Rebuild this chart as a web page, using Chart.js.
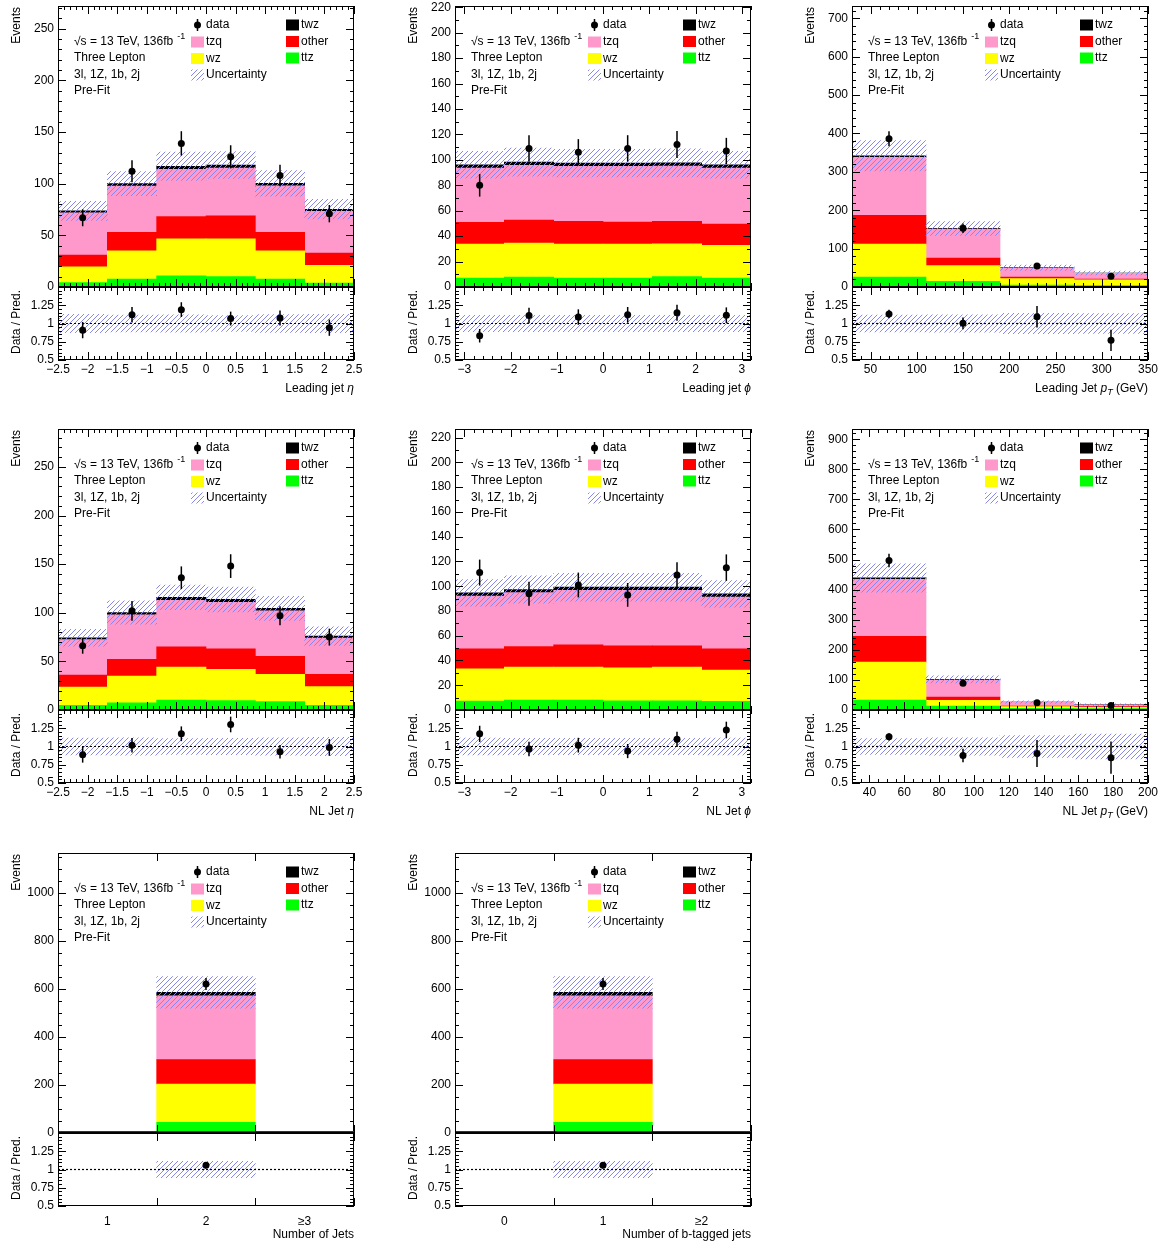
<!DOCTYPE html>
<html>
<head>
<meta charset="utf-8">
<title>Three lepton pre-fit jet distributions</title>
<script src="https://cdn.jsdelivr.net/npm/chart.js@4.4.1/dist/chart.umd.min.js"></script>
<style>
  html, body { margin: 0; padding: 0; background: #fff; }
  #page { position: relative; width: 1164px; height: 1245px; overflow: hidden; background: #fff; }
  #page canvas { position: absolute; }
</style>
</head>
<body>
<div id="page"></div>
<script>
/* -----------------------
data (stack order: ttz, wz, other, tzq, twz)
-------------------------- */
const sampleNames = ['ttz', 'wz', 'other', 'tzq', 'twz'];
const infoLines = ['Three Lepton', '3l, 1Z, 1b, 2j', 'Pre-Fit'];

// leading jet eta
const leadEtaEdges = [-2.5, -1.6667, -0.8333, 0, 0.8333, 1.6667, 2.5];
const leadEtaTtz   = [4.2, 7.7, 10.9, 10.0, 7.7, 3.9];
const leadEtaWz    = [15.4, 27.3, 35.8, 36.7, 27.3, 17.0];
const leadEtaOther = [11.3, 18.0, 21.5, 22.2, 18.0, 11.9];
const leadEtaTzq   = [40.8, 44.6, 45.6, 46.1, 44.9, 40.5];
const leadEtaTwz   = [2.0, 2.5, 3.0, 3.0, 2.5, 2.0];
const leadEtaUnc   = [9.3, 11.7, 13.7, 13.0, 12.4, 9.5];
const leadEtaData  = [67, 112, 139, 126, 108, 71];
const leadEtaErr   = [8.2, 10.6, 11.8, 11.2, 10.4, 8.4];

// leading jet phi
const leadPhiEdges = [-3.2, -2.1333, -1.0667, 0, 1.0667, 2.1333, 3.2];
const leadPhiTtz   = [7.1, 7.9, 7.1, 7.1, 8.1, 7.1];
const leadPhiWz    = [26.7, 26.7, 26.7, 26.7, 25.9, 25.6];
const leadPhiOther = [17.0, 18.0, 17.8, 17.2, 17.6, 16.8];
const leadPhiTzq   = [42.8, 43.1, 43.3, 43.9, 43.5, 44.1];
const leadPhiTwz   = [2.5, 2.5, 2.5, 2.5, 2.5, 2.5];
const leadPhiUnc   = [10.6, 11.0, 10.8, 10.8, 11.0, 10.6];
const leadPhiData  = [80, 109, 106, 109, 112, 107];
const leadPhiErr   = [8.9, 10.4, 10.3, 10.4, 10.6, 10.3];

// leading jet pT
const leadPtEdges = [30, 110, 190, 270, 350];
const leadPtTtz   = [26.0, 14.7, 5.2, 3.5];
const leadPtWz    = [85.9, 40.8, 16.5, 15.5];
const leadPtOther = [74.6, 20.0, 4.3, 1.8];
const leadPtTzq   = [151.2, 75.1, 23.3, 15.1];
const leadPtTwz   = [4.0, 2.0, 1.0, 0.5];
const leadPtUnc   = [39.5, 18.0, 7.0, 5.0];
const leadPtData  = [386, 153, 55, 28];
const leadPtErr   = [19.6, 12.4, 7.4, 5.3];

// NL jet eta
const nlEtaEdges = [-2.5, -1.6667, -0.8333, 0, 0.8333, 1.6667, 2.5];
const nlEtaTtz   = [4.8, 7.5, 10.3, 9.6, 8.6, 4.8];
const nlEtaWz    = [18.8, 27.4, 33.9, 32.2, 28.0, 19.2];
const nlEtaOther = [12.4, 17.1, 20.8, 21.2, 18.5, 12.6];
const nlEtaTzq   = [36.3, 45.8, 47.8, 47.7, 46.9, 37.4];
const nlEtaTwz   = [2.0, 2.5, 3.0, 3.0, 2.5, 2.0];
const nlEtaUnc   = [8.6, 12.0, 12.7, 12.7, 12.3, 9.6];
const nlEtaData  = [66, 102, 136, 148, 97, 75];
const nlEtaErr   = [8.1, 10.1, 11.7, 12.2, 9.8, 8.7];

// NL jet phi
const nlPhiEdges = [-3.2, -2.1333, -1.0667, 0, 1.0667, 2.1333, 3.2];
const nlPhiTtz   = [7.3, 8.1, 8.1, 7.5, 7.5, 7.0];
const nlPhiWz    = [26.0, 26.6, 26.6, 26.6, 27.2, 25.3];
const nlPhiOther = [16.2, 16.6, 18.0, 17.8, 17.2, 17.2];
const nlPhiTzq   = [42.6, 43.5, 44.0, 44.8, 44.8, 41.8];
const nlPhiTwz   = [2.5, 2.5, 2.5, 2.5, 2.5, 2.5];
const nlPhiUnc   = [10.8, 11.0, 11.2, 11.2, 11.2, 10.8];
const nlPhiData  = [111, 94, 101, 93, 109, 115];
const nlPhiErr   = [10.5, 9.7, 10.0, 9.6, 10.4, 10.7];

// NL jet pT
const nlPtEdges = [30, 72.5, 115, 157.5, 200];
const nlPtTtz   = [33.0, 13.0, 5.5, 4.4];
const nlPtWz    = [126.0, 19.0, 5.5, 4.4];
const nlPtOther = [86.0, 11.0, 2.3, 2.2];
const nlPtTzq   = [189.0, 56.7, 12.2, 6.2];
const nlPtTwz   = [5.0, 2.0, 1.0, 0.5];
const nlPtUnc   = [47.0, 12.0, 4.0, 3.0];
const nlPtData  = [497, 89, 24, 15];
const nlPtErr   = [22.3, 9.4, 4.9, 3.9];

// number of jets
const nJetsLabels = ['1', '2', '\u22653'];
const nJetsEdges  = [0.5, 1.5, 2.5, 3.5];
const nJetsTtz    = [0, 44, 0];
const nJetsWz     = [0, 160, 0];
const nJetsOther  = [0, 102, 0];
const nJetsTzq    = [0, 266, 0];
const nJetsTwz    = [0, 14, 0];
const nJetsUnc    = [0, 66, 0];
const nJetsData   = [0, 621, 0];
const nJetsErr    = [0, 24.9, 0];

// number of b-tagged jets
const nBLabels = ['0', '1', '\u22652'];
const nBEdges  = [-0.5, 0.5, 1.5, 2.5];
const nBTtz    = [0, 44, 0];
const nBWz     = [0, 160, 0];
const nBOther  = [0, 102, 0];
const nBTzq    = [0, 266, 0];
const nBTwz    = [0, 14, 0];
const nBUnc    = [0, 66, 0];
const nBData   = [0, 621, 0];
const nBErr    = [0, 24.9, 0];

/* -----------------------
styles
-------------------------- */
const FONT = "'Liberation Sans', Arial, Helvetica, sans-serif";
const sampleColors = { ttz: '#00ff00', wz: '#ffff00', other: '#ff0000', tzq: '#ff99cc', twz: '#000000' };

Chart.defaults.font.family = FONT;
Chart.defaults.font.size = 12;
Chart.defaults.color = '#000';

// hatch tile for the uncertainty band, one pattern per canvas
const hatchTile = (function () {
  const c = document.createElement('canvas');
  c.width = 5; c.height = 5;
  const g = c.getContext('2d');
  g.strokeStyle = 'rgb(135,135,240)';
  g.lineWidth = 1;
  g.beginPath();
  g.moveTo(-1, 6); g.lineTo(6, -1);
  g.moveTo(-1, 1); g.lineTo(1, -1);
  g.moveTo(4, 6); g.lineTo(6, 4);
  g.stroke();
  return c;
})();

/* -----------------------
panel layout
-------------------------- */
const W = 296, RATIO_H = 73;
const panels = [
  { left: 58, top: 6, mainH: 281, edges: leadEtaEdges,
    stacks: [leadEtaTtz, leadEtaWz, leadEtaOther, leadEtaTzq, leadEtaTwz], unc: leadEtaUnc, data: leadEtaData, err: leadEtaErr,
    yMax: 272, yStep: 50, yMinor: 5, xStep: 0.5, xMinor: 5, title: [['Leading jet ', ''], ['\u03b7', 'i']] },
  { left: 455, top: 6, mainH: 281, edges: leadPhiEdges,
    stacks: [leadPhiTtz, leadPhiWz, leadPhiOther, leadPhiTzq, leadPhiTwz], unc: leadPhiUnc, data: leadPhiData, err: leadPhiErr,
    yMax: 221, yStep: 20, yMinor: 2, xStep: 1, xMinor: 5, title: [['Leading jet ', ''], ['\u03d5', 'i']] },
  { left: 852, top: 6, mainH: 281, edges: leadPtEdges,
    stacks: [leadPtTtz, leadPtWz, leadPtOther, leadPtTzq, leadPtTwz], unc: leadPtUnc, data: leadPtData, err: leadPtErr,
    yMax: 732, yStep: 100, yMinor: 5, xStep: 50, xMinor: 5, title: [['Leading Jet ', ''], ['p', 'i'], ['T', 'sub'], [' (GeV)', '']] },
  { left: 58, top: 429, mainH: 281, edges: nlEtaEdges,
    stacks: [nlEtaTtz, nlEtaWz, nlEtaOther, nlEtaTzq, nlEtaTwz], unc: nlEtaUnc, data: nlEtaData, err: nlEtaErr,
    yMax: 289, yStep: 50, yMinor: 5, xStep: 0.5, xMinor: 5, title: [['NL Jet ', ''], ['\u03b7', 'i']] },
  { left: 455, top: 429, mainH: 281, edges: nlPhiEdges,
    stacks: [nlPhiTtz, nlPhiWz, nlPhiOther, nlPhiTzq, nlPhiTwz], unc: nlPhiUnc, data: nlPhiData, err: nlPhiErr,
    yMax: 227, yStep: 20, yMinor: 2, xStep: 1, xMinor: 5, title: [['NL Jet ', ''], ['\u03d5', 'i']] },
  { left: 852, top: 429, mainH: 281, edges: nlPtEdges,
    stacks: [nlPtTtz, nlPtWz, nlPtOther, nlPtTzq, nlPtTwz], unc: nlPtUnc, data: nlPtData, err: nlPtErr,
    yMax: 934, yStep: 100, yMinor: 5, xStep: 20, xMinor: 4, title: [['NL Jet ', ''], ['p', 'i'], ['T', 'sub'], [' (GeV)', '']] },
  { left: 58, top: 853, mainH: 280, edges: nJetsEdges, cats: nJetsLabels,
    stacks: [nJetsTtz, nJetsWz, nJetsOther, nJetsTzq, nJetsTwz], unc: nJetsUnc, data: nJetsData, err: nJetsErr,
    yMax: 1167, yStep: 200, yMinor: 4, title: [['Number of Jets', '']] },
  { left: 455, top: 853, mainH: 280, edges: nBEdges, cats: nBLabels,
    stacks: [nBTtz, nBWz, nBOther, nBTzq, nBTwz], unc: nBUnc, data: nBData, err: nBErr,
    yMax: 1167, yStep: 200, yMinor: 4, title: [['Number of b-tagged jets', '']] }
];

/* -----------------------
helpers
-------------------------- */
const pageEl = document.getElementById('page');

function addCanvas(x, y, w, h) {
  const c = document.createElement('canvas');
  c.width = w; c.height = h;
  c.style.left = x + 'px'; c.style.top = y + 'px';
  c.style.width = w + 'px'; c.style.height = h + 'px';
  pageEl.appendChild(c);
  return c;
}

function totalsOf(p) {
  return p.data.map((_, i) => p.stacks.reduce((s, a) => s + a[i], 0));
}

function binLabels(p) {
  return p.cats ? p.cats : p.data.map((_, i) => String(i));
}

function fixWidth(w) {
  return function (s) { s.width = w; s.paddingTop = 0; s.paddingBottom = 0; };
}
function fixHeight(h) {
  return function (s) { s.height = h; s.paddingLeft = 0; s.paddingRight = 0; };
}
// major ticks every `step`, inside [min, max]
function stepTicks(step) {
  return function (s) {
    const out = [];
    for (let k = Math.ceil(s.min / step - 1e-9); k * step <= s.max + 1e-9; k++) {
      out.push({ value: +(k * step).toFixed(6) });
    }
    s.ticks = out;
  };
}

const minus = v => String(v).replace('-', '\u2212');
const hiddenCat = labels => ({ type: 'category', labels, offset: true, display: false });

function drawRich(ctx, parts, xRight, y) {
  const fontFor = s => (s === 'i' ? 'italic 12px ' : s === 'sub' ? 'italic 9px ' : '12px ') + FONT;
  let w = 0;
  parts.forEach(([t, s]) => { ctx.font = fontFor(s); w += ctx.measureText(t).width; });
  let x = xRight - w;
  ctx.textAlign = 'left';
  ctx.textBaseline = 'middle';
  parts.forEach(([t, s]) => {
    ctx.font = fontFor(s);
    ctx.fillText(t, x, s === 'sub' ? y + 3 : y);
    x += ctx.measureText(t).width;
  });
}

function vText(ctx, text, x, y) {
  ctx.save();
  ctx.translate(x, y);
  ctx.rotate(-Math.PI / 2);
  ctx.font = '12px ' + FONT;
  ctx.textAlign = 'right';
  ctx.textBaseline = 'middle';
  ctx.fillText(text, 0, 0);
  ctx.restore();
}

function drawLegend(ctx, a, hatch) {
  const L = a.left, T = a.top;
  ctx.fillStyle = '#000';
  ctx.font = '12px ' + FONT;
  ctx.textAlign = 'left';
  ctx.textBaseline = 'middle';
  const head = '\u221as = 13 TeV, 136fb';
  ctx.fillText(head, L + 16, T + 36);
  const hw = ctx.measureText(head).width;
  ctx.font = '9px ' + FONT;
  ctx.fillText('-1', L + 16 + hw + 4, T + 31);
  ctx.font = '12px ' + FONT;
  infoLines.forEach((t, i) => ctx.fillText(t, L + 16, T + 52 + i * 16.5));

  // data marker
  ctx.strokeStyle = '#000';
  ctx.lineWidth = 1.5;
  ctx.beginPath(); ctx.moveTo(L + 139.5, T + 13); ctx.lineTo(L + 139.5, T + 25); ctx.stroke();
  ctx.beginPath(); ctx.arc(L + 139.5, T + 19, 3.5, 0, Math.PI * 2); ctx.fill();
  ctx.fillText('data', L + 148, T + 19);

  const col1 = ['tzq', 'wz'];
  col1.forEach((s, i) => {
    const y = T + 36 + i * 16.5;
    ctx.fillStyle = sampleColors[s];
    ctx.fillRect(L + 133, y - 5.5, 13, 11);
    ctx.fillStyle = '#000';
    ctx.fillText(s, L + 148, y);
  });
  ctx.fillStyle = hatch;
  ctx.fillRect(L + 133, T + 69 - 5.5, 13, 11);
  ctx.fillStyle = '#000';
  ctx.fillText('Uncertainty', L + 148, T + 69);

  const col2 = ['twz', 'other', 'ttz'];
  col2.forEach((s, i) => {
    const y = T + 19 + i * 16.5;
    ctx.fillStyle = sampleColors[s];
    ctx.fillRect(L + 228, y - 5.5, 13, 11);
    ctx.fillStyle = '#000';
    ctx.fillText(s, L + 243, y);
  });
}

/* -----------------------
ROOT-like frame, ticks, error bars and texts
-------------------------- */
function decor(p, kind, hatch) {
  return {
    id: 'decor',
    afterDatasetsDraw(chart) {
      const ctx = chart.ctx, a = chart.chartArea, ys = chart.scales.y;
      const meta = chart.getDatasetMeta(0);
      const pts = chart.data.datasets[0].data;
      ctx.save();
      ctx.beginPath(); ctx.rect(a.left, a.top, a.width, a.height); ctx.clip();
      ctx.strokeStyle = '#000';
      ctx.lineWidth = 1.5;
      meta.data.forEach((el, i) => {
        const d = pts[i];
        ctx.beginPath();
        ctx.moveTo(el.x, ys.getPixelForValue(d.y + d.e));
        ctx.lineTo(el.x, ys.getPixelForValue(d.y - d.e));
        ctx.stroke();
      });
      ctx.restore();
    },
    afterDraw(chart) {
      const ctx = chart.ctx, a = chart.chartArea;
      const xs = chart.scales.x, ys = chart.scales.y;
      ctx.save();
      ctx.strokeStyle = '#000';
      ctx.lineWidth = 1;
      ctx.strokeRect(a.left + 0.5, a.top + 0.5, a.width - 1, a.height - 1);
      if (p.cats && kind === 'main') {
        // empty-bin outline sits on the axis line
        ctx.strokeStyle = '#333';
        ctx.beginPath();
        ctx.moveTo(a.left, a.bottom - 1.5); ctx.lineTo(a.right, a.bottom - 1.5);
        ctx.stroke();
        ctx.strokeStyle = '#000';
      }

      // y ticks
      ctx.beginPath();
      const yN = kind === 'main' ? p.yMinor : 5;
      const ySt = kind === 'main' ? p.yStep / p.yMinor : 0.05;
      for (let k = Math.ceil(ys.min / ySt - 1e-9); k * ySt <= ys.max + 1e-9; k++) {
        const py = Math.round(ys.getPixelForValue(k * ySt)) + 0.5;
        const len = k % yN === 0 ? 8 : 4;
        ctx.moveTo(a.left, py); ctx.lineTo(a.left + len, py);
        ctx.moveTo(a.right, py); ctx.lineTo(a.right - len, py);
      }
      // x ticks
      const xv = [];
      if (p.cats) {
        p.edges.forEach(e => xv.push([e, 8]));
      } else {
        const st = p.xStep / p.xMinor;
        for (let k = Math.ceil(xs.min / st - 1e-9); k * st <= xs.max + 1e-9; k++) {
          xv.push([k * st, k % p.xMinor === 0 ? 8 : 4]);
        }
      }
      xv.forEach(([v, len]) => {
        const px = Math.round(xs.getPixelForValue(v)) + 0.5;
        ctx.moveTo(px, a.bottom); ctx.lineTo(px, a.bottom - len);
        ctx.moveTo(px, a.top); ctx.lineTo(px, a.top + len);
      });
      ctx.stroke();

      ctx.fillStyle = '#000';
      if (kind === 'main') {
        vText(ctx, 'Events', a.left - 41, a.top + 1);
        drawLegend(ctx, a, hatch);
      } else {
        vText(ctx, 'Data / Pred.', a.left - 41, a.top + 3);
        drawRich(ctx, p.title, a.right, a.bottom + 29);
      }
      ctx.restore();
    }
  };
}

const barStyle = { barPercentage: 1, categoryPercentage: 1, borderWidth: 0, grouped: false };

/* -----------------------
main (stacked) panel
-------------------------- */
function buildMain(p) {
  const canvas = addCanvas(p.left - 62, p.top - 10, W + 72, p.mainH + 20);
  const hatch = canvas.getContext('2d').createPattern(hatchTile, 'repeat');
  const labels = binLabels(p);
  const totals = totalsOf(p);
  const points = [];
  p.data.forEach((v, i) => {
    if (v > 0) points.push({ x: (p.edges[i] + p.edges[i + 1]) / 2, y: v, e: p.err[i] });
  });

  const datasets = [
    { type: 'scatter', data: points, xAxisID: 'x', yAxisID: 'y', order: 0,
      pointRadius: 3.5, pointBackgroundColor: '#000', pointBorderWidth: 0 },
    Object.assign({ type: 'bar', data: totals.map((t, i) => t > 0 ? [t - p.unc[i], t + p.unc[i]] : null),
      xAxisID: 'xu', yAxisID: 'y', order: 1, backgroundColor: hatch }, barStyle)
  ];
  sampleNames.forEach((s, k) => {
    datasets.push(Object.assign({ type: 'bar', label: s, data: p.stacks[k], xAxisID: 'xc', yAxisID: 'y', order: 2,
      backgroundColor: sampleColors[s] }, barStyle));
  });

  new Chart(canvas, {
    type: 'bar',
    data: { labels, datasets },
    options: {
      responsive: false,
      animation: false,
      layout: { padding: { left: 12, right: 10, top: 10, bottom: 10 } },
      plugins: { legend: { display: false }, tooltip: { enabled: false } },
      scales: {
        x: { type: 'linear', offset: false, min: p.edges[0], max: p.edges[p.edges.length - 1], display: false },
        xc: Object.assign(hiddenCat(labels), { stacked: true }),
        xu: hiddenCat(labels),
        y: {
          type: 'linear', min: 0, max: p.yMax, stacked: true,
          afterBuildTicks: stepTicks(p.yStep),
          ticks: { padding: 4, color: '#000', callback: v => String(v) },
          grid: { display: false, drawTicks: false },
          border: { display: false },
          afterFit: fixWidth(50)
        }
      }
    },
    plugins: [decor(p, 'main', hatch)]
  });
}

/* -----------------------
ratio panel
-------------------------- */
function buildRatio(p) {
  const canvas = addCanvas(p.left - 62, p.top + p.mainH - 10, W + 72, RATIO_H + 55);
  const hatch = canvas.getContext('2d').createPattern(hatchTile, 'repeat');
  const labels = binLabels(p);
  const totals = totalsOf(p);
  const lo = p.edges[0], hi = p.edges[p.edges.length - 1];
  const points = [];
  p.data.forEach((v, i) => {
    if (v > 0 && totals[i] > 0) {
      points.push({ x: (p.edges[i] + p.edges[i + 1]) / 2, y: v / totals[i], e: p.err[i] / totals[i] });
    }
  });
  const band = totals.map((t, i) => t > 0 ? [1 - p.unc[i] / t, 1 + p.unc[i] / t] : null);

  new Chart(canvas, {
    type: 'bar',
    data: {
      labels,
      datasets: [
        { type: 'scatter', data: points, xAxisID: 'x', yAxisID: 'y', order: 0,
          pointRadius: 3.5, pointBackgroundColor: '#000', pointBorderWidth: 0 },
        { type: 'line', data: [{ x: lo, y: 1 }, { x: hi, y: 1 }], xAxisID: 'x', yAxisID: 'y', order: 1,
          borderColor: '#000', borderWidth: 1.2, borderDash: [2, 2], pointRadius: 0 },
        Object.assign({ type: 'bar', data: band, xAxisID: 'xc', yAxisID: 'y', order: 2, backgroundColor: hatch }, barStyle)
      ]
    },
    options: {
      responsive: false,
      animation: false,
      layout: { padding: { left: 12, right: 10, top: 10, bottom: 0 } },
      plugins: { legend: { display: false }, tooltip: { enabled: false } },
      scales: {
        x: p.cats
          ? { type: 'linear', offset: false, min: lo, max: hi, display: false }
          : { type: 'linear', offset: false, min: lo, max: hi,
              afterBuildTicks: stepTicks(p.xStep),
              ticks: { autoSkip: false, maxRotation: 0, padding: 2, color: '#000', callback: minus },
              grid: { display: false, drawTicks: false },
              border: { display: false },
              afterFit: fixHeight(45) },
        xc: p.cats
          ? { type: 'category', labels, offset: true,
              ticks: { autoSkip: false, maxRotation: 0, padding: 8, color: '#000' },
              grid: { display: false, drawTicks: false },
              border: { display: false },
              afterFit: fixHeight(45) }
          : hiddenCat(labels),
        y: {
          type: 'linear', min: 0.5, max: 1.5,
          afterBuildTicks: stepTicks(0.25),
          ticks: { padding: 4, color: '#000', callback: v => (v >= 1.5 ? '' : String(v)) },
          grid: { display: false, drawTicks: false },
          border: { display: false },
          afterFit: fixWidth(50)
        }
      }
    },
    plugins: [decor(p, 'ratio', hatch)]
  });
}

panels.forEach(p => {
  buildMain(p);
  buildRatio(p);
});
</script>
</body>
</html>
